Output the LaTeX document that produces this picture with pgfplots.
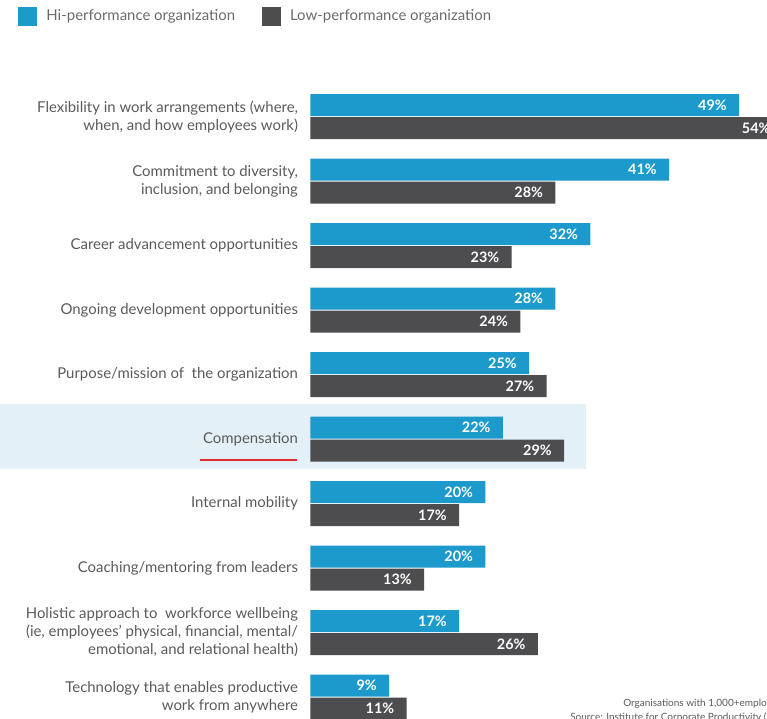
\documentclass[border=0pt]{standalone}
\usepackage{pgfplots}
\pgfplotsset{compat=1.18}
\usepackage{fontspec}
\setmainfont{Lato}
\definecolor{hiblue}{HTML}{1C9ACC}
\definecolor{lowgray}{HTML}{4D4D4F}
\definecolor{band}{HTML}{E4F0F7}
\definecolor{labgray}{HTML}{5A5A5A}
\definecolor{leggray}{HTML}{6A6A6A}
\definecolor{accent}{HTML}{E02A2E}
\begin{document}
\begin{tikzpicture}
\begin{axis}[
  set layers,
  at={(232.69pt,-63.19pt)}, anchor=north west,
  scale only axis, width=342.56pt, height=483.75pt,
  xbar, bar width=16.5pt,
  xmin=0, xmax=52.2, ymin=-0.5, ymax=9.5,
  enlargelimits=false,
  clip=false,
  axis line style={draw=none},
  major tick length=0pt,
  xtick=\empty,
  ytick={0,...,9},
  yticklabels={
    {Technology that enables productive\\work from anywhere},
    {Holistic approach to\ \ workforce wellbeing\\(ie, employees’ physical, financial, mental/\\emotional, and relational health)},
    {Coaching/mentoring from leaders},
    {Internal mobility},
    {Compensation},
    {Purpose/mission of\ \ the organization},
    {Ongoing development opportunities},
    {Career advancement opportunities},
    {Commitment to diversity,\\inclusion, and belonging},
    {Flexibility in work arrangements (where,\\when, and how employees work)}
  },
  yticklabel style={align=right, font=\fontsize{11.2}{13.5}\selectfont, text=labgray, inner sep=0pt, xshift=-9pt},
  /pgf/number format/assume math mode=true,
  point meta=x,
  nodes near coords={\pgfmathprintnumber{\pgfplotspointmeta}\%},
  nodes near coords style={anchor=east, inner sep=0pt, xshift=-9pt, font=\fontsize{10.8}{12}\selectfont\bfseries, text=white},
  legend columns=2,
  legend style={at={(-0.6395,1.1053)}, anchor=west, draw=none, fill=none,
    inner sep=0pt, nodes={inner sep=0pt}, font=\fontsize{11.2}{12}\selectfont, text=leggray,
    /tikz/every odd column/.append style={column sep=6.75pt},
    /tikz/every even column/.append style={column sep=20.25pt}},
  legend image code/.code={\fill[#1] (0pt,-7.1pt) rectangle (14.25pt,7.1pt);},
]
\begin{pgfonlayer}{axis background}
\fill[band] (axis cs:-35.46,3.535) rectangle (axis cs:31.51,4.543);
\end{pgfonlayer}
\draw[accent, line width=1.9pt] (axis cs:-12.6,3.674) -- (axis cs:-1.5,3.674);

\addplot[fill=hiblue, draw=none, bar shift=8.625pt] coordinates {
  (9,0) (17,1) (20,2) (20,3) (22,4) (25,5) (28,6) (32,7) (41,8) (49,9)
};
\addlegendentry{Hi-performance organization}
\addplot[fill=lowgray, draw=none, bar shift=-8.625pt] coordinates {
  (11,0) (26,1) (13,2) (17,3) (29,4) (27,5) (24,6) (23,7) (28,8) (54,9)
};
\addlegendentry{Low-performance organization}

\node[anchor=west, font=\fontsize{7.5}{8}\selectfont, text=labgray, inner sep=0pt] at (axis cs:35.74,-0.108) {Organisations with 1,000+employees};
\node[anchor=west, font=\fontsize{7.5}{8}\selectfont, text=labgray, inner sep=0pt] at (axis cs:29.69,-0.31) {Source: Institute for Corporate Productivity (i4cp)};
\end{axis}
\pgfresetboundingbox
\useasboundingbox (0pt,0pt) rectangle (575.25pt,-538.5pt);
\end{tikzpicture}
\end{document}
